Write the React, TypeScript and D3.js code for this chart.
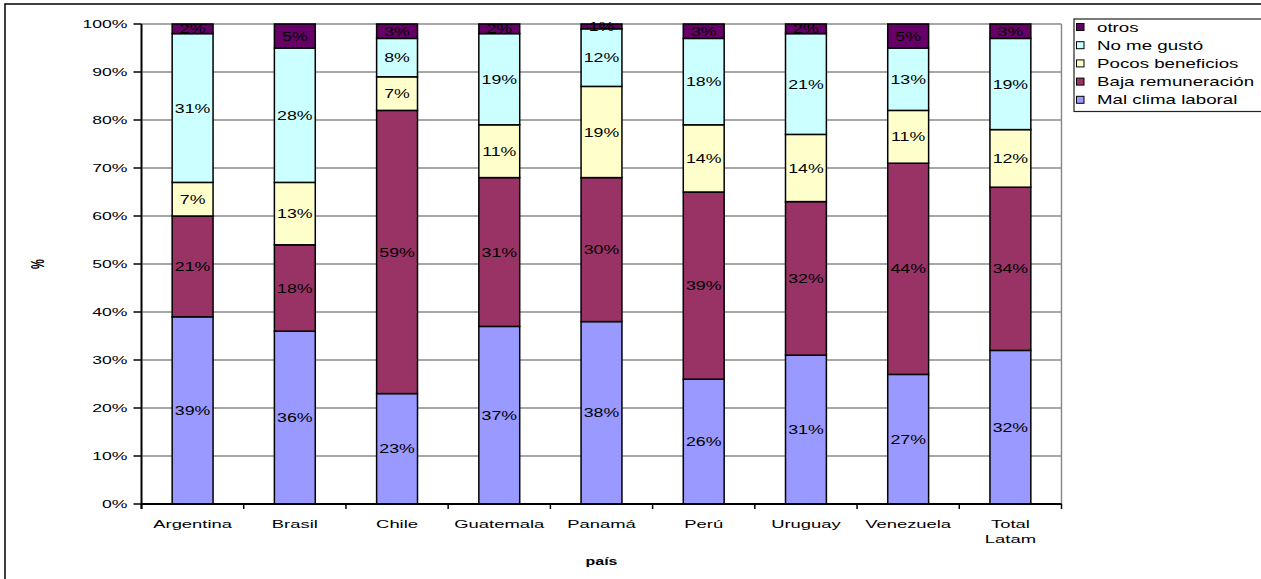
import React from "react";
import * as d3 from "d3";

// Motivos de abandono por país (porcentaje de respuestas)
const categories = ["Argentina", "Brasil", "Chile", "Guatemala", "Panamá", "Perú", "Uruguay", "Venezuela", "Total Latam"];
const malClimaLaboral = [39, 36, 23, 37, 38, 26, 31, 27, 32];
const bajaRemuneracion = [21, 18, 59, 31, 30, 39, 32, 44, 34];
const pocosBeneficios = [7, 13, 7, 11, 19, 14, 14, 11, 12];
const noMeGusto = [31, 28, 8, 19, 12, 18, 21, 13, 19];
const otros = [2, 5, 3, 2, 1, 3, 2, 5, 3];

const seriesNames = ["Mal clima laboral", "Baja remuneración", "Pocos beneficios", "No me gustó", "otros"];
const seriesValues = [malClimaLaboral, bajaRemuneracion, pocosBeneficios, noMeGusto, otros];
const seriesColors = ["#9999FF", "#993366", "#FFFFCC", "#CCFFFF", "#660066"];
const yTickValues = [0, 10, 20, 30, 40, 50, 60, 70, 80, 90, 100];

const FONT = "'Liberation Sans', Arial, Helvetica, sans-serif";
const SX = 1.6; // horizontal text stretch

export default function App() {
  const W = 1261;
  const H = 579;
  const plot = { left: 141.5, right: 1061.5, top: 24, bottom: 504 };

  const x = d3
    .scaleBand<string>()
    .domain(categories)
    .range([plot.left, plot.right])
    .paddingInner(0.6)
    .paddingOuter(0.3);
  const y = d3.scaleLinear().domain([0, 100]).range([plot.bottom, plot.top]);

  const rows = categories.map((c, i) => {
    const r: Record<string, number | string> = { cat: c };
    seriesNames.forEach((s, k) => (r[s] = seriesValues[k][i]));
    return r;
  });
  const stacked = d3.stack<any>().keys(seriesNames)(rows as any);

  const step = x.step();
  const boundaries = d3.range(categories.length + 1).map((i) => plot.left + i * step);

  return (
    <svg
      width={W}
      height={H}
      style={{ position: "absolute", left: 0, top: 0, background: "#fff" }}
      fontFamily={FONT}
    >
      {/* chart frame */}
      <rect x={5} y={4} width={1300} height={700} fill="#fff" stroke="#000" strokeWidth={1.5} />

      {/* gridlines */}
      {yTickValues.map((t) => (
        <line key={"g" + t} x1={plot.left} x2={plot.right} y1={y(t)} y2={y(t)} stroke="#8a8a8a" strokeWidth={1.5} />
      ))}
      <line x1={plot.right} x2={plot.right} y1={plot.top} y2={plot.bottom} stroke="#8a8a8a" strokeWidth={1.5} />

      {/* bars */}
      {stacked.map((layer, k) => (
        <g key={layer.key}>
          {layer.map((d, i) => (
            <rect
              key={i}
              x={x(categories[i])!}
              y={y(d[1])}
              width={x.bandwidth()}
              height={y(d[0]) - y(d[1])}
              fill={seriesColors[k]}
              stroke="#000"
              strokeWidth={1.5}
            />
          ))}
        </g>
      ))}

      {/* value labels */}
      {stacked.map((layer, k) => (
        <g key={"l" + layer.key}>
          {layer.map((d, i) => {
            const cx = x(categories[i])! + x.bandwidth() / 2;
            const cy = (y(d[0]) + y(d[1])) / 2;
            return (
              <text
                key={i}
                transform={`translate(${cx},${cy + 4.5}) scale(${1.42},1)`}
                textAnchor="middle"
                fontSize={12.5}
                fill="#000"
              >
                {seriesValues[k][i]}%
              </text>
            );
          })}
        </g>
      ))}

      {/* axes */}
      <line x1={plot.left} x2={plot.left} y1={plot.top} y2={plot.bottom + 5} stroke="#000" strokeWidth={2} />
      <line x1={plot.left} x2={plot.right} y1={plot.bottom} y2={plot.bottom} stroke="#000" strokeWidth={2} />
      {yTickValues.map((t) => (
        <g key={"t" + t}>
          <line x1={plot.left - 8} x2={plot.left} y1={y(t)} y2={y(t)} stroke="#000" strokeWidth={1.5} />
          <text
            transform={`translate(${plot.left - 14},${y(t) + 4}) scale(${SX},1)`}
            textAnchor="end"
            fontSize={11}
            fill="#000"
          >
            {t}%
          </text>
        </g>
      ))}
      {boundaries.map((bx, i) => (
        <line key={"xt" + i} x1={bx} x2={bx} y1={plot.bottom} y2={plot.bottom + 5} stroke="#000" strokeWidth={1.5} />
      ))}
      {categories.map((c) => {
        const cx = x(c)! + x.bandwidth() / 2;
        const lines = c.split(" ");
        return (
          <g key={"c" + c}>
            {lines.map((ln, j) => (
              <text
                key={j}
                transform={`translate(${cx},${528 + j * 15}) scale(${SX},1)`}
                textAnchor="middle"
                fontSize={11.5}
                fill="#000"
              >
                {ln}
              </text>
            ))}
          </g>
        );
      })}

      {/* axis titles */}
      <text
        transform={`translate(${(plot.left + plot.right) / 2},565) scale(1.45,1)`}
        textAnchor="middle"
        fontSize={11}
        fontWeight="bold"
        fill="#000"
      >
        país
      </text>
      <text
        transform={`translate(44,264) scale(${SX},1) rotate(-90)`}
        textAnchor="middle"
        fontSize={11}
        fontWeight="bold"
        fill="#000"
      >
        %
      </text>

      {/* legend */}
      <rect x={1074} y={19} width={200} height={92.5} fill="#fff" stroke="#222" strokeWidth={1.2} />
      {seriesNames
        .map((s, k) => ({ s, k }))
        .reverse()
        .map(({ s, k }, j) => {
          const cy = 27 + j * 18.2;
          return (
            <g key={"lg" + s}>
              <rect x={1076.5} y={cy - 3.5} width={7.5} height={7} fill={seriesColors[k]} stroke="#000" strokeWidth={1} />
              <text
                transform={`translate(1097,${cy + 4.5}) scale(1.44,1)`}
                fontSize={13}
                fill="#000"
              >
                {s}
              </text>
            </g>
          );
        })}
    </svg>
  );
}
